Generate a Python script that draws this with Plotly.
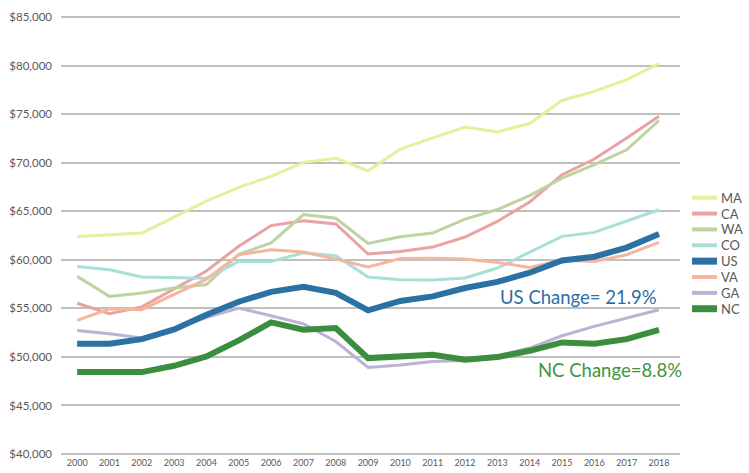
import plotly.graph_objects as go

years = list(range(2000, 2019))

MA = [62400, 62550, 62750, 64400, 66050, 67450, 68590, 70030, 70460, 69170, 71400, 72550, 73670, 73160, 74030, 76400, 77340, 78540, 80190]
CA = [55530, 54440, 55150, 57000, 58850, 61400, 63520, 64020, 63690, 60590, 60860, 61310, 62340, 63950, 65950, 68760, 70370, 72540, 74770]
WA = [58290, 56230, 56570, 57100, 57450, 60560, 61740, 64650, 64280, 61680, 62380, 62750, 64190, 65170, 66600, 68400, 69790, 71320, 74340]
CO = [59320, 58980, 58220, 58130, 58100, 59830, 59830, 60720, 60420, 58220, 57950, 57910, 58120, 59150, 60740, 62410, 62820, 63950, 65150]
US = [51350, 51350, 51830, 52830, 54340, 55680, 56700, 57220, 56600, 54790, 55760, 56230, 57090, 57720, 58670, 59930, 60320, 61260, 62650]
VA = [53760, 54950, 54860, 56420, 58010, 60520, 61030, 60790, 60070, 59250, 60120, 60170, 60070, 59730, 59200, 59940, 59830, 60520, 61790]
GA = [52730, 52380, 51940, 52900, 54050, 55030, 54240, 53410, 51590, 48910, 49160, 49530, 49640, 50120, 50910, 52180, 53140, 54000, 54850]
NC = [48440, 48500, 48440, 49090, 50050, 51700, 53550, 52800, 52970, 49880, 49980, 50220, 49710, 49980, 50630, 51490, 51350, 51830, 52790]

legend_order = ["MA", "CA", "WA", "CO", "US", "VA", "GA", "NC"]
y_ticks = list(range(40000, 85001, 5000))

us_note = "US Change= 21.9%"
nc_note = "NC Change=8.8%"

styles = {
    "MA": ("#e6ef9a", 3),
    "CA": ("#e9a3a3", 3),
    "WA": ("#bdd3a3", 3),
    "CO": ("#a6e0d9", 3),
    "US": ("#2b72a3", 6),
    "VA": ("#f6b69d", 3),
    "GA": ("#b9b3d6", 3),
    "NC": ("#3b8e3d", 6),
}
data = {"MA": MA, "CA": CA, "WA": WA, "CO": CO, "US": US, "VA": VA, "GA": GA, "NC": NC}
draw_order = ["MA", "CA", "WA", "CO", "VA", "GA", "US", "NC"]

fig = go.Figure()
for name in draw_order:
    color, width = styles[name]
    fig.add_trace(go.Scatter(
        x=years, y=data[name], mode="lines", name=name,
        line=dict(color=color, width=width), showlegend=False,
    ))

fig.add_annotation(x=2015.51, y=56190, xref="x", yref="y", text=us_note,
                   showarrow=False, font=dict(family="Lato", size=18.5, color="#2e6fa3"))
fig.add_annotation(x=2016.49, y=48680, xref="x", yref="y", text=nc_note,
                   showarrow=False, font=dict(family="Lato", size=18.5, color="#3f9444"))

# manual legend (paper coordinates)
plot_top, plot_bot = 15.3, 456.3
def py(p):
    return (plot_bot - p) / (plot_bot - plot_top)
x0p, x1p, xt = (692 - 61) / 619, (717 - 61) / 619, (719 - 61) / 619
for k, name in enumerate(legend_order):
    color, width = styles[name]
    yy = py(198 + 15.86 * k)
    fig.add_shape(type="line", xref="paper", yref="paper", x0=x0p, x1=x1p, y0=yy, y1=yy,
                  line=dict(color=color, width=width + 1))
    fig.add_annotation(x=xt, y=yy, xref="paper", yref="paper", text=name, showarrow=False,
                       xanchor="left", yanchor="middle",
                       font=dict(family="Lato", size=13, color="#595959"))

fig.update_layout(
    width=749, height=473,
    margin=dict(l=61, r=69, t=15.3, b=16.7, autoexpand=False),
    paper_bgcolor="white", plot_bgcolor="white",
    font=dict(family="Lato", color="#595959"),
    showlegend=False,
    xaxis=dict(range=[1999.5, 2018.65], tickvals=years, ticktext=[str(y) for y in years],
               showgrid=False, zeroline=False, showline=False, ticks="", automargin=False,
               tickfont=dict(size=9, color="#595959"), fixedrange=True),
    yaxis=dict(range=[39800, 85200], tickvals=y_ticks, tickformat="$,.0f",
               showgrid=True, gridcolor="#bfbfbf", gridwidth=1.5, zeroline=False,
               showline=False, ticks="", ticklabelstandoff=8, automargin=False,
               tickfont=dict(size=11.5, color="#595959"), fixedrange=True),
)

fig.write_html("out.html", config={"displayModeBar": False},
               post_script="document.body.style.margin='0';")
